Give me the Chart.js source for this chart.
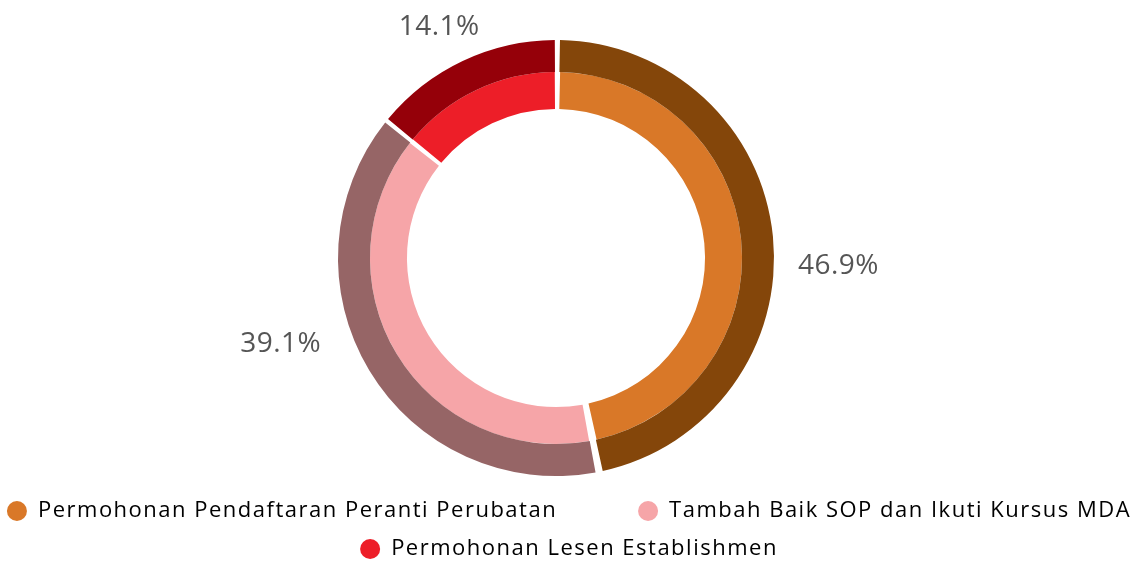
<!DOCTYPE html>
<html>
<head>
<meta charset="utf-8">
<script src="https://cdn.jsdelivr.net/npm/chart.js@4.4.1/dist/chart.umd.min.js"></script>
<style>
html,body{margin:0;padding:0;background:#fff;}
#wrap{width:1138px;height:563px;position:relative;}
</style>
</head>
<body>
<div id="wrap"><canvas id="c" width="1138" height="563"></canvas></div>
<script>
const categories = ["Permohonan Pendaftaran Peranti Perubatan", "Tambah Baik SOP dan Ikuti Kursus MDA", "Permohonan Lesen Establishmen"];
const percentValues = [46.9, 39.1, 14.1];
const percentLabels = ["46.9%", "39.1%", "14.1%"];

const lightColors = ["#D97828", "#F6A5A8", "#ED1E28"];
const darkColors = ["#84460A", "#966566", "#950009"];

const spacingPlugin = {
  id: 'textSpacing',
  beforeUpdate(chart, args, opts) {
    chart.ctx.letterSpacing = opts.letterSpacing;
  }
};

const areaPlugin = {
  id: 'areaAdjust',
  afterLayout(chart, args, opts) {
    const a = chart.chartArea;
    a.left += opts.shrinkLeft;
    a.right -= opts.shrinkRight;
    a.bottom -= opts.shrinkBottom;
    a.width = a.right - a.left;
    a.height = a.bottom - a.top;
  }
};

const labelPlugin = {
  id: 'pctLabels',
  afterDatasetsDraw(chart, args, opts) {
    const meta = chart.getDatasetMeta(0);
    const ctx = chart.ctx;
    ctx.save();
    ctx.letterSpacing = opts.letterSpacing;
    ctx.font = opts.font;
    ctx.fillStyle = opts.color;
    ctx.textAlign = 'center';
    ctx.textBaseline = 'middle';
    meta.data.forEach((arc, i) => {
      const p = arc.getProps(['x','y','startAngle','endAngle','outerRadius'], true);
      const nud = opts.nudges[i];
      const mid = (p.startAngle + p.endAngle) / 2 + nud.angle * Math.PI / 180;
      const r = p.outerRadius + nud.dist;
      ctx.fillText(percentLabels[i], p.x + Math.cos(mid) * r, p.y + Math.sin(mid) * r);
    });
    ctx.restore();
  }
};

new Chart(document.getElementById('c'), {
  type: 'doughnut',
  data: {
    labels: categories,
    datasets: [
      { data: percentValues, backgroundColor: darkColors, borderWidth: 0, weight: 32 },
      { data: percentValues, backgroundColor: lightColors, borderWidth: 0, weight: 37 }
    ]
  },
  options: {
    responsive: false,
    animation: false,
    cutout: '68%',
    spacing: 5,
    layout: { padding: { top: 40, bottom: -7, left: -20, right: -20 } },
    plugins: {
      tooltip: { enabled: false },
      textSpacing: { letterSpacing: '1.5px' },
      areaAdjust: { shrinkLeft: 20, shrinkRight: 46, shrinkBottom: 8 },
      pctLabels: {
        font: '28px "Open Sans"',
        letterSpacing: '0.5px',
        color: '#555555',
        nudges: [ {angle: 7.2, dist: 67}, {angle: 13.6, dist: 73}, {angle: -1.5, dist: 43} ]
      },
      legend: {
        position: 'bottom',
        labels: {
          usePointStyle: true,
          pointStyle: 'circle',
          boxHeight: 14,
          pointStyleWidth: 20,
          padding: 16,
          color: '#4a4a4a',
          font: { family: '"Open Sans"', size: 22 },
          generateLabels(chart) {
            return categories.map((c, i) => ({
              text: i === 0 ? c + '         ' : c,
              fillStyle: lightColors[i],
              strokeStyle: lightColors[i],
              lineWidth: 0,
              pointStyle: 'circle',
              hidden: false,
              index: i,
              datasetIndex: 1
            }));
          }
        }
      }
    }
  },
  plugins: [spacingPlugin, areaPlugin, labelPlugin]
});
</script>
</body>
</html>
